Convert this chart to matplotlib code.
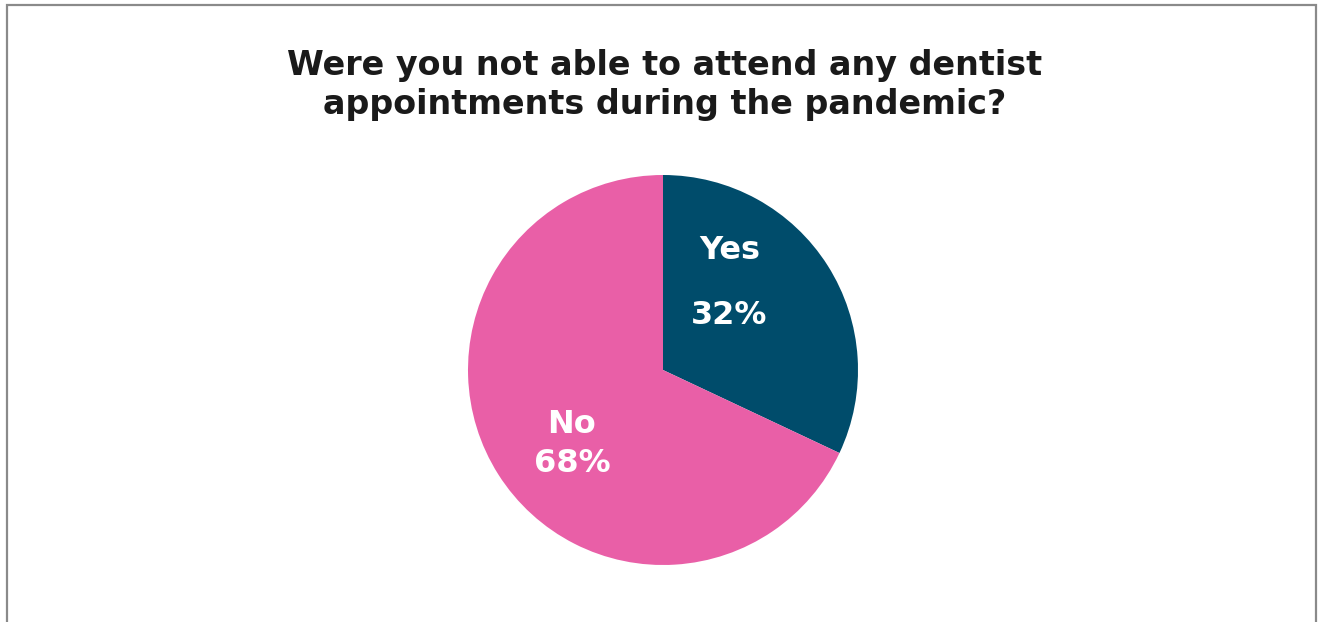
import matplotlib

matplotlib.use("Agg")
import matplotlib.pyplot as plt
from matplotlib.patches import Rectangle

TITLE = "Were you not able to attend any dentist\nappointments during the pandemic?"
LABELS = ["Yes", "No"]
SHARES = [32, 68]
COLORS = ["#004c6b", "#e95fa7"]

plt.rcParams["font.family"] = ["DejaVu Sans"]

fig = plt.figure(figsize=(13.19, 6.22), dpi=100)
fig.patch.set_facecolor("white")

# grey frame around the card (open at the bottom edge)
fig.add_artist(Rectangle((7 / 1319, -0.05), 1309 / 1319, (622 - 5) / 622 + 0.05,
                         transform=fig.transFigure, fill=False,
                         edgecolor="#8a8a8a", lw=1.6))

fig.text(665 / 1319, 1 - 85 / 622, TITLE, ha="center", va="center",
         fontsize=24, fontweight="bold", color="#1a1a1a", linespacing=1.25)

ax = fig.add_axes([468 / 1319, 57 / 622, 390 / 1319, 390 / 622])
ax.pie(SHARES, colors=COLORS, startangle=90, counterclock=False,
       wedgeprops=dict(linewidth=0))
ax.set_xlim(-1, 1)
ax.set_ylim(-1, 1)
ax.set_aspect("equal")
ax.axis("off")

label_style = dict(ha="center", va="center", color="white",
                   fontsize=23, fontweight="bold")
ax.text(0.34, 0.615, LABELS[0], **label_style)
ax.text(0.34, 0.277, f"{SHARES[0]}%", **label_style)
ax.text(-0.47, -0.277, LABELS[1], **label_style)
ax.text(-0.467, -0.482, f"{SHARES[1]}%", **label_style)

fig.savefig("out.png", dpi=100)
